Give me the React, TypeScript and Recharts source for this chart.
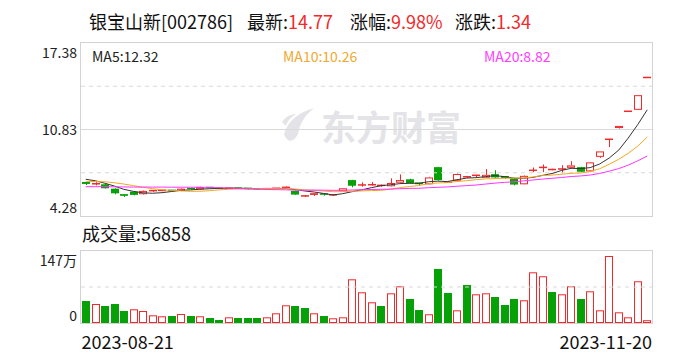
import { Bar, ComposedChart, Line, ReferenceLine, XAxis, YAxis } from 'recharts';

const FONT = "'Noto Sans CJK SC', 'Noto Sans', sans-serif";
const RED = '#f2282b';
const GREEN = '#06a106';
const GRID = '#d9d9d9';

const dates = [
  '2023-08-21', '2023-08-22', '2023-08-23', '2023-08-24', '2023-08-25', '2023-08-28', '2023-08-29', '2023-08-30',
  '2023-08-31', '2023-09-01', '2023-09-04', '2023-09-05', '2023-09-06', '2023-09-07', '2023-09-08', '2023-09-11',
  '2023-09-12', '2023-09-13', '2023-09-14', '2023-09-15', '2023-09-18', '2023-09-19', '2023-09-20', '2023-09-21',
  '2023-09-22', '2023-09-25', '2023-09-26', '2023-09-27', '2023-09-28', '2023-10-09', '2023-10-10', '2023-10-11',
  '2023-10-12', '2023-10-13', '2023-10-16', '2023-10-17', '2023-10-18', '2023-10-19', '2023-10-20', '2023-10-23',
  '2023-10-24', '2023-10-25', '2023-10-26', '2023-10-27', '2023-10-30', '2023-10-31', '2023-11-01', '2023-11-02',
  '2023-11-03', '2023-11-06', '2023-11-07', '2023-11-08', '2023-11-09', '2023-11-10', '2023-11-13', '2023-11-14',
  '2023-11-15', '2023-11-16', '2023-11-17', '2023-11-20',
];

const opens = [
  6.8, 6.69, 6.68, 6.35, 5.88, 6.12, 5.93, 6.17, 6.2, 6.22, 6.18, 6.36, 6.3, 6.44, 6.38, 6.34, 6.38, 6.37, 6.34, 6.32,
  6.36, 6.42, 6.18, 5.78, 5.82, 5.94, 5.85, 6.15, 7.0, 6.6, 6.62, 6.52, 6.53, 6.8, 7.06, 6.76, 6.68, 7.98, 6.8, 6.95,
  7.22, 7.25, 7.18, 7.45, 7.25, 7.12, 6.68, 7.7, 7.85, 7.78, 7.8, 7.93, 7.98, 7.66, 8.76, 10.09, 10.94, 12.21, 12.32, 14.77,
];
const highs = [
  6.86, 6.84, 6.7, 6.37, 5.9, 6.14, 6.22, 6.24, 6.24, 6.25, 6.38, 6.42, 6.5, 6.48, 6.42, 6.4, 6.41, 6.4, 6.38, 6.37,
  6.4, 6.52, 6.2, 5.86, 5.97, 5.97, 5.9, 6.4, 7.02, 6.83, 6.85, 6.66, 7.13, 7.43, 7.1, 6.78, 7.25, 8.0, 6.9, 7.5,
  7.32, 7.4, 7.83, 7.75, 7.28, 7.15, 7.36, 7.95, 8.18, 7.86, 8.13, 8.43, 8.0, 8.36, 9.17, 10.09, 11.1, 12.21, 13.43, 14.77,
];
const lows = [
  6.62, 6.6, 6.36, 5.92, 5.72, 5.85, 5.9, 6.12, 6.16, 6.15, 6.16, 6.28, 6.28, 6.36, 6.32, 6.32, 6.33, 6.28, 6.28, 6.3,
  6.34, 6.4, 5.88, 5.72, 5.8, 5.82, 5.82, 6.13, 6.45, 6.5, 6.58, 6.5, 6.5, 6.78, 6.74, 6.58, 6.65, 6.96, 6.78, 6.92,
  7.18, 7.22, 7.15, 7.18, 7.08, 6.6, 6.66, 7.6, 7.6, 7.74, 7.52, 7.9, 7.6, 7.6, 8.68, 9.5, 10.9, 12.21, 12.3, 14.77,
];
const closes = [
  6.65, 6.72, 6.38, 6.0, 5.75, 5.88, 6.18, 6.2, 6.22, 6.18, 6.35, 6.32, 6.47, 6.4, 6.35, 6.38, 6.36, 6.34, 6.32, 6.35,
  6.38, 6.45, 5.9, 5.8, 5.95, 5.84, 5.88, 6.38, 6.57, 6.63, 6.65, 6.6, 6.78, 7.0, 6.76, 6.63, 7.2, 7.0, 6.84, 7.46,
  7.25, 7.36, 7.4, 7.2, 7.1, 6.66, 7.32, 7.74, 7.96, 7.8, 7.84, 8.11, 7.63, 8.34, 9.17, 10.09, 11.1, 12.21, 13.43, 14.77,
];
// 成交量（手）
const volumes = [
  449000, 388000, 347000, 388000, 245000, 280000, 245000, 157000, 137000, 143000, 184000, 143000, 137000, 102000,
  61000, 116000, 102000, 102000, 102000, 116000, 198000, 361000, 347000, 306000, 198000, 143000, 96000, 116000,
  892000, 627000, 423000, 347000, 606000, 749000, 490000, 265000, 178000, 1103000, 613000, 259000, 776000, 586000,
  606000, 531000, 368000, 490000, 464000, 1035000, 954000, 633000, 586000, 749000, 490000, 647000, 259000, 1368000,
  218000, 116000, 852000, 56858,
];
const ma5 = [
  7.06, 6.95, 6.76, 6.55, 6.3, 6.146, 6.038, 6.002, 6.046, 6.132, 6.226, 6.254, 6.308, 6.344, 6.378, 6.384, 6.392, 6.366,
  6.35, 6.35, 6.35, 6.368, 6.28, 6.176, 6.096, 5.988, 5.874, 5.97, 6.124, 6.26, 6.422, 6.566, 6.646, 6.732, 6.758, 6.754,
  6.874, 6.918, 6.886, 7.026, 7.15, 7.182, 7.262, 7.334, 7.262, 7.144, 7.136, 7.204, 7.356, 7.496, 7.732, 7.89, 7.868,
  7.944, 8.218, 8.668, 9.266, 10.182, 11.2, 12.32,
];
const ma10 = [
  6.88, 6.89, 6.87, 6.8, 6.7, 6.58, 6.45, 6.35, 6.27, 6.216, 6.186, 6.146, 6.155, 6.195, 6.255, 6.305, 6.323, 6.337,
  6.347, 6.364, 6.367, 6.38, 6.323, 6.263, 6.223, 6.169, 6.121, 6.125, 6.15, 6.178, 6.205, 6.22, 6.308, 6.428, 6.509,
  6.588, 6.72, 6.782, 6.809, 6.892, 6.952, 7.028, 7.09, 7.11, 7.144, 7.147, 7.159, 7.233, 7.345, 7.379, 7.438, 7.513,
  7.536, 7.65, 7.857, 8.2, 8.578, 9.025, 9.572, 10.26,
];
const ma20 = [
  6.5, 6.5, 6.5, 6.49, 6.48, 6.47, 6.47, 6.47, 6.47, 6.46, 6.46, 6.46, 6.46, 6.44, 6.42, 6.39, 6.36, 6.33, 6.31, 6.29,
  6.277, 6.263, 6.239, 6.229, 6.239, 6.237, 6.222, 6.231, 6.249, 6.271, 6.286, 6.3, 6.316, 6.346, 6.366, 6.379, 6.421,
  6.454, 6.48, 6.535, 6.579, 6.624, 6.699, 6.769, 6.827, 6.868, 6.94, 7.008, 7.077, 7.136, 7.195, 7.271, 7.313, 7.38,
  7.501, 7.674, 7.869, 8.129, 8.459, 8.82,
];

const priceTicks = [17.38, 10.83, 4.28];
const priceTickLabels = ['17.38', '10.83', '4.28'];
const volumeTicks = [1470000, 0];
const volumeTickLabels = ['147万', '0'];

const rows = dates.map((date, i) => ({
  date,
  open: opens[i],
  high: highs[i],
  low: lows[i],
  close: closes[i],
  volume: volumes[i],
  ma5: ma5[i],
  ma10: ma10[i],
  ma20: ma20[i],
  volumeUp: i === 0 ? closes[i] >= opens[i] : closes[i] >= closes[i - 1],
}));

function Candle(props: any) {
  const { x, y, width, height, payload } = props;
  if (x == null || payload == null) return null;
  const { open, close, high, low } = payload;
  const span = high - low;
  const toY = (v: number) => (span > 0 ? y + ((high - v) / span) * height : y);
  const left = Math.round(x);
  const w = Math.round(width);
  const cx = left + Math.floor(w / 2) + 0.5;
  const up = close >= open;
  const color = up ? RED : GREEN;
  const top = toY(Math.max(open, close));
  const bottom = toY(Math.min(open, close));
  const bodyH = bottom - top;

  if (bodyH < 2) {
    return (
      <g>
        {span > 0 && <line x1={cx} x2={cx} y1={y} y2={y + height} stroke={color} />}
        <rect x={left} y={top - 0.75} width={w} height={Math.max(bodyH, 1.5)} fill={color} />
      </g>
    );
  }
  if (up) {
    return (
      <g>
        <line x1={cx} x2={cx} y1={y} y2={top} stroke={color} />
        <line x1={cx} x2={cx} y1={bottom} y2={y + height} stroke={color} />
        <rect x={left + 0.5} y={top + 0.5} width={w - 1} height={bodyH - 1} fill="none" stroke={color} />
      </g>
    );
  }
  return (
    <g>
      <line x1={cx} x2={cx} y1={y} y2={y + height} stroke={color} />
      <rect x={left} y={top} width={w} height={bodyH} fill={color} />
    </g>
  );
}

function VolumeBar(props: any) {
  const { x, y, width, height, payload } = props;
  if (x == null || payload == null) return null;
  const left = Math.round(x);
  const w = Math.round(width);
  if (payload.volumeUp) {
    return (
      <rect x={left + 0.5} y={y + 0.5} width={w - 1} height={Math.max(height - 1, 0.5)} fill="none" stroke={RED} />
    );
  }
  return <rect x={left} y={y} width={w} height={height} fill={GREEN} />;
}

function PriceTick(props: any) {
  const { y, index } = props;
  const dy = index === 0 ? 9 : index === priceTicks.length - 1 ? -9 : -0.5;
  return (
    <text x={77} y={y + dy} textAnchor="end" dominantBaseline="central" fontSize={14} fontFamily={FONT} fill="#222">
      {priceTickLabels[index]}
    </text>
  );
}

function VolumeTick(props: any) {
  const { y, index } = props;
  const dy = index === 0 ? 8.5 : -8;
  return (
    <text x={77} y={y + dy} textAnchor="end" dominantBaseline="central" fontSize={14} fontFamily={FONT} fill="#222">
      {volumeTickLabels[index]}
    </text>
  );
}

function DateTick(props: any) {
  const { x, payload } = props;
  const first = payload.value === dates[0];
  return (
    <text
      x={first ? x - 4.3 : x + 4.8}
      y={101}
      textAnchor={first ? 'start' : 'end'}
      dominantBaseline="central"
      fontSize={18}
      fontFamily={FONT}
      fill="#111"
    >
      {payload.value}
    </text>
  );
}

const textStyle = { position: 'absolute' as const, fontFamily: FONT, whiteSpace: 'nowrap' as const };

export default function App() {
  const last = rows[rows.length - 1];
  const prevClose = closes[closes.length - 2];
  const change = last.close - prevClose;
  const pct = (change / prevClose) * 100;

  return (
    <div style={{ position: 'absolute', left: 0, top: 0, width: 688, height: 360, background: '#fff', overflow: 'hidden' }}>
      {/* watermark */}
      <div style={{ ...textStyle, left: 278, top: 100, display: 'flex', alignItems: 'center', color: '#e4e4e8' }}>
        <svg width={40} height={44} viewBox="0 0 40 44">
          <path d="M6 30 C10 16 22 8 36 4 C26 12 22 20 20 30 C16 38 10 40 6 30 Z" fill="#e4e4e8" />
          <path d="M4 18 C8 12 14 10 18 10 C12 14 9 18 8 22 Z" fill="#e4e4e8" />
        </svg>
        <span style={{ fontSize: 35, fontWeight: 700, marginLeft: 3, letterSpacing: 0 }}>东方财富</span>
      </div>

      {/* title */}
      <div style={{ ...textStyle, left: 89, top: 8, fontSize: 18, lineHeight: '26px', color: '#111' }}>
        银宝山新[002786]
      </div>
      <div style={{ ...textStyle, left: 247, top: 8, fontSize: 18, lineHeight: '26px', color: '#111' }}>
        最新:<span style={{ color: RED }}>{last.close.toFixed(2)}</span>
      </div>
      <div style={{ ...textStyle, left: 350, top: 8, fontSize: 18, lineHeight: '26px', color: '#111' }}>
        涨幅:<span style={{ color: RED }}>{pct.toFixed(2)}%</span>
      </div>
      <div style={{ ...textStyle, left: 455, top: 8, fontSize: 18, lineHeight: '26px', color: '#111' }}>
        涨跌:<span style={{ color: RED }}>{change.toFixed(2)}</span>
      </div>

      <div style={{ position: 'absolute', left: 0, top: 0 }}>
        <ComposedChart width={688} height={220} data={rows} margin={{ top: 43, right: 36, bottom: 4, left: 0 }}>
          <XAxis dataKey="date" hide />
          <YAxis
            domain={[priceTicks[priceTicks.length - 1], priceTicks[0]]}
            ticks={priceTicks}
            interval={0}
            width={81}
            axisLine={false}
            tickLine={false}
            tick={PriceTick}
            allowDataOverflow
          />
          <ReferenceLine y={(priceTicks[0] + priceTicks[1]) / 2} stroke={GRID} strokeDasharray="4 4" />
          <ReferenceLine y={priceTicks[1]} stroke={GRID} />
          <ReferenceLine y={(priceTicks[1] + priceTicks[2]) / 2} stroke={GRID} strokeDasharray="4 4" />
          <Bar
            dataKey={(d: any) => [d.low, d.high > d.low ? d.high : d.high + 0.0001]}
            barSize={8}
            shape={Candle}
            isAnimationActive={false}
          />
          <Line type="linear" dataKey="ma5" stroke="#333" strokeWidth={1} dot={false} isAnimationActive={false} />
          <Line type="linear" dataKey="ma10" stroke="#f5a623" strokeWidth={1} dot={false} isAnimationActive={false} />
          <Line type="linear" dataKey="ma20" stroke="#ff33ff" strokeWidth={1} dot={false} isAnimationActive={false} />
        </ComposedChart>
      </div>

      <div style={{ position: 'absolute', left: 80, top: 42, width: 573, height: 175, border: '1px solid #d3d3d3', boxSizing: 'border-box' }} />

      {/* MA legend */}
      <div style={{ ...textStyle, left: 92, top: 46, fontSize: 14, lineHeight: '20px', color: '#222' }}>
        MA5:{last.ma5.toFixed(2)}
      </div>
      <div style={{ ...textStyle, left: 283, top: 46, fontSize: 14, lineHeight: '20px', color: '#f0a830' }}>
        MA10:{last.ma10.toFixed(2)}
      </div>
      <div style={{ ...textStyle, left: 484, top: 46, fontSize: 14, lineHeight: '20px', color: '#ff3cff' }}>
        MA20:{last.ma20.toFixed(2)}
      </div>

      <div style={{ ...textStyle, left: 82, top: 220, fontSize: 18, lineHeight: '26px', color: '#111' }}>
        成交量:{last.volume}
      </div>

      <div style={{ position: 'absolute', left: 0, top: 240 }}>
        <ComposedChart width={688} height={120} data={rows} margin={{ top: 11, right: 36, bottom: 0, left: 0 }}>
          <XAxis
            dataKey="date"
            ticks={[dates[0], dates[dates.length - 1]]}
            interval={0}
            height={37}
            axisLine={false}
            tickLine={false}
            tick={DateTick}
          />
          <YAxis
            domain={[0, volumeTicks[0]]}
            ticks={volumeTicks}
            interval={0}
            width={81}
            axisLine={false}
            tickLine={false}
            tick={VolumeTick}
            allowDataOverflow
          />
          <ReferenceLine y={volumeTicks[0] / 2} stroke={GRID} strokeDasharray="4 4" />
          <Bar dataKey="volume" barSize={8} shape={VolumeBar} isAnimationActive={false} />
        </ComposedChart>
      </div>

      <div style={{ position: 'absolute', left: 80, top: 250, width: 573, height: 74, border: '1px solid #d3d3d3', boxSizing: 'border-box' }} />
    </div>
  );
}
